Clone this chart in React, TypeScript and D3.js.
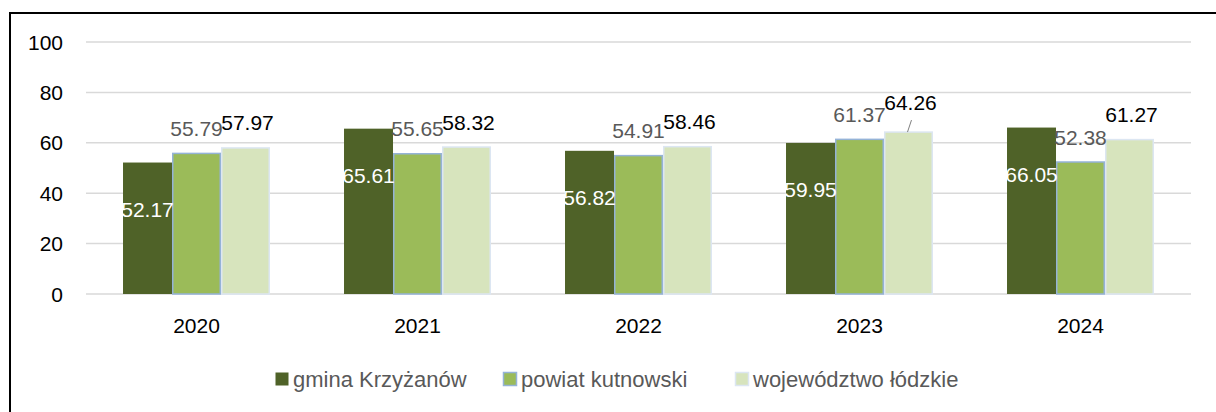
import React from "react";
import * as d3 from "d3";

const years = ["2020", "2021", "2022", "2023", "2024"];
const seriesNames = ["gmina Krzyżanów", "powiat kutnowski", "województwo łódzkie"];
const gmina = [52.17, 65.61, 56.82, 59.95, 66.05];
const powiat = [55.79, 55.65, 54.91, 61.37, 52.38];
const wojewodztwo = [57.97, 58.32, 58.46, 64.26, 61.27];
const yTicks = [0, 20, 40, 60, 80, 100];

const W = 1216;
const H = 412;
const FONT = "'Liberation Sans', Arial, sans-serif";

const fills = ["#4F6228", "#9BBB59", "#D7E4BD"];
const strokes = ["none", "#95B3D7", "#DCE6F2"];
const labelColors = ["#FFFFFF", "#595959", "#000000"];

export default function App() {
  const x0 = d3
    .scaleBand<string>()
    .domain(years)
    .range([86, 1191])
    .paddingInner(0.335)
    .paddingOuter(0.1675);
  const x1 = d3
    .scaleBand<number>()
    .domain([0, 1, 2])
    .range([0, x0.bandwidth()])
    .padding(0);
  const y = d3.scaleLinear().domain([0, 100]).range([294, 42]);

  const seriesData = [gmina, powiat, wojewodztwo];

  const legendItems = [
    { sx: 275, tx: 293 },
    { sx: 503, tx: 521 },
    { sx: 735, tx: 753 },
  ];

  return (
    <svg
      width={W}
      height={H}
      style={{ position: "absolute", left: 0, top: 0, background: "#fff" }}
      fontFamily={FONT}
    >
      <rect x={0} y={0} width={W} height={H} fill="#fff" />
      <rect x={10} y={13} width={W + 20} height={H + 20} fill="none" stroke="#000" strokeWidth={2} />
      {yTicks.map((t) => (
        <g key={t}>
          <line x1={86} x2={1191} y1={y(t)} y2={y(t)} stroke="#D9D9D9" strokeWidth={1.5} />
          <text x={63} y={y(t)} dy="0.36em" textAnchor="end" fontSize={21} fill="#000">
            {t}
          </text>
        </g>
      ))}
      {years.map((yr, i) => (
        <g key={yr} transform={`translate(${x0(yr)},0)`}>
          {seriesData.map((s, k) => {
            const bx = x1(k)!;
            const bw = x1.bandwidth();
            const top = y(s[i]);
            return (
              <rect
                key={k}
                x={bx + (strokes[k] === "none" ? 0 : 0.75)}
                y={top}
                width={bw - (strokes[k] === "none" ? 0 : 1.5)}
                height={y(0) - top}
                fill={fills[k]}
                stroke={strokes[k]}
                strokeWidth={1.5}
              />
            );
          })}
          <text x={x0.bandwidth() / 2} y={325} dy="0.36em" textAnchor="middle" fontSize={21} fill="#000">
            {yr}
          </text>
        </g>
      ))}
      {years.map((yr, i) =>
        seriesData.map((s, k) => {
          const cx = x0(yr)! + x1(k)! + x1.bandwidth() / 2;
          const top = y(s[i]);
          const isLeader = k === 2 && i === 3;
          let cy: number;
          if (k === 0) cy = top + 47;
          else cy = top - (isLeader ? 30 : 25);
          return (
            <g key={`${yr}-${k}`}>
              {isLeader && (
                <line x1={cx + 3} y1={cy + 18} x2={cx - 1} y2={top} stroke="#808080" strokeWidth={1} />
              )}
              <text
                x={cx + (k === 2 ? 2 : 0)}
                y={cy}
                dy="0.36em"
                textAnchor="middle"
                fontSize={21}
                fill={labelColors[k]}
              >
                {s[i].toFixed(2)}
              </text>
            </g>
          );
        })
      )}
      {seriesNames.map((name, k) => (
        <g key={name}>
          <rect
            x={legendItems[k].sx + 0.5}
            y={372.5}
            width={13}
            height={13}
            fill={fills[k]}
            stroke={strokes[k]}
            strokeWidth={1.5}
          />
          <text x={legendItems[k].tx} y={379} dy="0.36em" fontSize={22} fill="#595959">
            {name}
          </text>
        </g>
      ))}
    </svg>
  );
}
